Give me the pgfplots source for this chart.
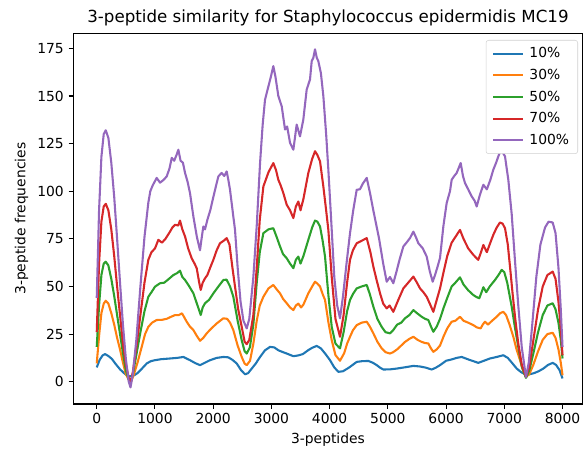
\documentclass[border=0pt]{standalone}
\usepackage{pgfplots}
\pgfplotsset{compat=1.18}
\usepackage{fontspec}
\setmainfont{DejaVu Sans}
\definecolor{c0}{HTML}{1F77B4}
\definecolor{c1}{HTML}{FF7F0E}
\definecolor{c2}{HTML}{2CA02C}
\definecolor{c3}{HTML}{D62728}
\definecolor{c4}{HTML}{9467BD}
\begin{document}
\begin{tikzpicture}
\begin{axis}[
  scale only axis, width=382pt, height=278pt,
  xmin=-402, xmax=8346, ymin=-11.7, ymax=182.9,
  xtick={0,1000,...,8000}, ytick={0,25,...,175},
  scaled x ticks=false,
  /pgf/number format/assume math mode=true,
  /pgf/number format/1000 sep={},
  tick align=outside, tick pos=left, major tick length=3.6pt,
  every tick/.style={black, line width=0.8pt},
  axis line style={line width=0.8pt},
  tick label style={font=\fontsize{10.4}{12}\selectfont},
  label style={font=\fontsize{10.4}{12}\selectfont},
  title style={font=\fontsize{12.5}{14}\selectfont, yshift=-4pt},
  title={3-peptide similarity for Staphylococcus epidermidis MC19},
  xlabel={3-peptides}, ylabel={3-peptide frequencies},
  legend cell align=left,
  legend style={at={(rel axis cs:1,1)}, anchor=north east, xshift=-3.5pt, yshift=-5pt,
    draw=black!18, rounded corners=2pt, font=\fontsize{10.4}{12}\selectfont,
    row sep=3pt, column sep=2pt, inner xsep=4.5pt, inner ysep=3.5pt},
  legend image code/.code={\draw[#1] (0pt,0pt) -- (22.5pt,0pt);},
  every axis plot/.append style={line width=1.56pt, line join=round},
]
\coordinate (ll) at (rel axis cs:0,0);
\addplot[c0] coordinates {(0,7.5) (50,11.5) (100,13.8) (143,14.5) (200,13.5) (260,12) (320,9.5) (400,6.5) (470,4.5) (515,3.4) (560,2.8) (600,3) (650,3.5) (700,4.5) (780,7) (859,9.6) (930,10.8) (1001,11.3) (1100,11.8) (1180,12) (1259,12.2) (1380,12.5) (1488,13) (1540,12.2) (1602,11.3) (1690,9.8) (1774,8.7) (1860,10) (1946,11.3) (2060,12.5) (2175,13) (2260,12.8) (2330,11.5) (2404,9.6) (2480,6) (2547,3.9) (2600,4.5) (2662,6.9) (2730,9.5) (2805,13) (2890,16.5) (2977,18.3) (3050,18) (3120,16.5) (3200,15.5) (3263,14.8) (3377,13.4) (3460,13.8) (3540,14.5) (3634,16.6) (3700,17.8) (3778,18.8) (3850,17.5) (3930,14.5) (4007,11.3) (4080,7.5) (4150,5.2) (4230,5.5) (4300,6.8) (4350,7.8) (4465,10.4) (4560,10.8) (4665,10.9) (4740,10) (4809,8.7) (4870,7.3) (4923,6.4) (5040,6.5) (5152,6.9) (5300,7.6) (5438,8.3) (5550,8) (5650,7.4) (5753,6.4) (5820,7.3) (5896,8.7) (6000,11) (6096,11.7) (6180,12.5) (6268,13) (6400,11.5) (6553,9.9) (6650,11) (6754,12.2) (6870,13) (6983,13.9) (7060,12.5) (7130,10) (7213,6.9) (7290,5) (7355,3.9) (7430,3.9) (7510,4.5) (7590,5.5) (7670,6.9) (7750,8.8) (7831,9.9) (7890,8.8) (7950,6) (8000,1.7)};
\addlegendentry{10\%}
\addplot[c1] coordinates {(0,9.6) (40,24) (80,36) (120,41) (155,42.5) (200,41) (250,36) (300,30) (350,23) (400,17) (450,10) (500,4) (550,1) (590,0) (640,4) (700,10) (770,18) (830,25) (886,28.8) (950,31) (1030,32.4) (1120,32.5) (1200,33) (1270,34) (1345,35) (1410,35) (1464,35.9) (1500,34) (1545,31.5) (1600,29) (1660,27.1) (1720,24) (1774,21.5) (1830,23) (1889,25.4) (1970,28) (2061,30.6) (2120,32) (2175,33.3) (2240,33) (2290,31) (2346,27.1) (2420,19) (2490,13) (2540,9.5) (2576,8.7) (2633,11) (2690,20) (2748,32) (2800,40) (2862,44.6) (2950,49) (3033,50.8) (3090,48.5) (3148,46.4) (3200,43.5) (3263,41.2) (3320,39) (3377,37.6) (3420,40) (3462,41) (3510,39) (3550,40.5) (3634,46.4) (3700,50) (3749,52.5) (3790,51.5) (3835,50) (3880,46) (3921,42.9) (3980,31) (4036,21.8) (4100,14) (4178,11) (4250,15) (4300,20) (4350,23.6) (4400,27) (4465,29.7) (4550,31) (4637,31.5) (4690,29) (4751,25.4) (4820,21) (4894,17.5) (4960,15.5) (5037,14.8) (5090,15.5) (5160,17) (5230,19) (5295,20.9) (5370,22.5) (5438,23.6) (5510,22) (5581,20.9) (5640,20.3) (5695,20.1) (5740,17.5) (5781,15.7) (5840,17) (5896,19) (5960,24) (6020,28) (6096,31.5) (6160,32) (6239,34.1) (6300,32) (6380,31) (6468,29.7) (6530,28.5) (6594,28) (6630,30) (6668,31.5) (6720,30) (6790,32) (6869,34.1) (6930,36) (6983,36.7) (7030,35) (7090,30) (7155,23.6) (7210,17) (7270,11.3) (7320,6) (7372,2.5) (7430,4) (7500,9) (7580,16) (7660,22) (7740,25) (7831,25.7) (7880,23) (7930,17) (7970,10) (8000,3.4)};
\addlegendentry{30\%}
\addplot[c2] coordinates {(0,18.3) (40,40) (80,56) (120,62) (155,63) (200,61) (250,54) (300,45) (350,35) (400,25) (450,15) (500,6) (550,1) (585,0) (620,4) (680,14) (750,26) (820,37) (886,44.6) (940,47) (1001,49.9) (1087,51.7) (1160,52) (1240,54) (1316,56) (1380,57) (1430,58.3) (1470,55) (1517,53.4) (1590,50) (1660,46.4) (1720,41) (1786,35) (1820,39) (1860,41.2) (1930,43) (2003,46.4) (2090,50) (2175,53.4) (2230,53.6) (2290,50) (2346,44.6) (2420,32) (2490,21.8) (2540,16) (2576,14.8) (2630,18) (2690,30) (2748,52) (2800,68) (2862,78) (2950,80) (3033,80.6) (3090,76) (3148,71) (3200,67) (3263,64.8) (3320,62) (3377,59.6) (3420,64) (3462,65.7) (3500,62) (3550,66) (3634,74.5) (3700,81) (3749,84.6) (3790,84) (3835,81.5) (3880,74) (3921,65.7) (3980,45) (4036,28.8) (4100,20) (4178,17.5) (4240,26) (4300,37) (4350,42.9) (4400,46) (4465,49) (4550,50) (4637,50.8) (4690,46) (4751,39.4) (4820,33) (4894,28.8) (4960,26) (5037,25.4) (5090,27) (5160,30) (5230,31) (5295,33.3) (5370,35) (5438,37.6) (5500,36) (5581,34.1) (5640,33) (5695,32.4) (5740,29) (5781,26.2) (5840,29) (5896,33) (5960,39) (6020,44) (6096,50) (6160,52) (6239,54.8) (6300,51) (6380,48) (6468,45.5) (6520,44.5) (6570,43.8) (6610,47) (6640,49.6) (6690,47) (6750,50) (6840,53.4) (6900,56) (6955,58.7) (7000,57.5) (7050,52) (7127,39.4) (7180,29) (7240,18.3) (7300,8) (7372,2) (7430,6) (7500,15) (7580,26) (7660,35) (7740,40) (7831,41.2) (7880,38) (7930,31) (7970,22) (8000,12.2)};
\addlegendentry{50\%}
\addplot[c3] coordinates {(0,26) (40,62) (80,84) (120,92) (155,93.4) (200,90) (250,80) (300,66) (350,50) (400,35) (450,20) (500,9) (550,2) (585,0) (620,5) (680,18) (750,35) (820,52) (886,64) (940,68) (1001,70) (1058,74.5) (1120,73) (1180,75) (1259,78.8) (1300,81) (1345,82.4) (1400,82) (1430,84.6) (1470,80) (1517,76.2) (1570,70) (1631,64.8) (1680,62) (1717,59.6) (1760,52) (1786,48.2) (1820,52) (1860,54.3) (1900,56) (1950,60) (2003,64) (2060,69) (2117,72.7) (2180,74) (2232,75.4) (2280,72) (2330,60) (2375,49.9) (2430,38) (2490,28.8) (2540,21) (2576,19.7) (2620,22) (2690,35) (2748,60) (2800,85) (2862,102.5) (2950,110) (3033,114.8) (3080,111) (3119,106) (3160,103) (3205,99) (3263,92.9) (3320,90) (3377,85.9) (3420,92) (3462,94.6) (3500,90) (3550,96) (3634,109.6) (3700,117) (3749,121) (3790,119) (3835,115.7) (3892,102.5) (3940,90) (3978,79.7) (4036,55) (4100,33) (4178,23.6) (4240,35) (4300,52) (4350,64) (4400,69) (4465,72.7) (4550,74) (4637,75.4) (4700,68) (4751,60.4) (4810,53) (4866,46.4) (4920,41) (4980,38.5) (5030,40) (5094,36.7) (5180,43) (5266,49) (5350,52) (5438,55.2) (5500,52) (5552,49) (5610,47) (5667,44.6) (5720,41) (5781,36.7) (5840,43) (5896,49) (5960,58) (6020,66) (6096,73) (6160,76) (6239,79.7) (6300,75) (6380,70) (6468,66.6) (6553,64) (6600,68) (6640,71.8) (6700,68) (6760,73) (6811,77.1) (6870,81) (6926,83.6) (6970,83) (7012,80.6) (7060,72) (7098,60.4) (7140,47) (7184,34.1) (7240,20) (7300,9) (7372,2.5) (7430,8) (7500,22) (7580,38) (7660,50) (7740,56) (7831,57.8) (7880,54) (7930,42) (7970,28) (8000,13.9)};
\addlegendentry{70\%}
\addplot[c4] coordinates {(0,44) (40,90) (80,118) (120,130) (155,132) (200,128) (250,115) (300,97) (350,75) (400,52) (450,30) (500,12) (550,0) (580,-3) (620,4) (680,22) (750,50) (820,76) (886,94) (920,100) (960,103) (1030,107) (1087,104.5) (1150,106) (1202,107.8) (1250,112) (1288,117.5) (1330,116) (1370,119) (1402,121.8) (1440,116) (1480,115) (1517,109.6) (1560,105) (1602,99) (1660,86.7) (1720,76) (1774,69) (1800,75) (1831,81.5) (1860,80) (1900,85) (1950,90) (2003,97) (2050,103) (2089,107.8) (2146,109.6) (2190,108) (2232,110.4) (2260,106) (2289,100.8) (2346,86.7) (2375,79.7) (2420,60) (2470,42) (2520,32) (2576,28) (2620,33) (2690,55) (2748,82) (2805,114.8) (2850,135) (2890,148) (2948,155) (2990,160) (3033,165.7) (3070,160) (3119,150) (3177,144.6) (3234,132.4) (3270,134) (3320,125.4) (3377,121.8) (3434,135) (3491,128.8) (3548,137.6) (3606,153.4) (3663,158.7) (3692,168.3) (3720,170) (3749,174.5) (3780,170) (3806,168.3) (3850,162) (3892,150) (3940,130) (3978,111.3) (4036,79.7) (4080,55) (4130,40) (4178,33.3) (4230,45) (4290,62) (4350,78) (4407,90.3) (4465,100.8) (4520,101) (4570,104) (4637,107) (4694,99) (4750,90) (4850,75) (4920,62) (4980,52.5) (5037,55) (5094,51.7) (5150,58) (5200,64) (5266,71) (5320,73) (5380,75.4) (5438,78.8) (5480,76) (5524,72.7) (5600,70) (5667,65.7) (5720,58) (5770,52.5) (5810,56) (5850,60) (5896,65) (5953,81.5) (6010,93.8) (6067,100) (6096,106) (6140,108) (6182,109.6) (6251,114.8) (6290,108) (6325,104.3) (6380,101) (6440,97.3) (6490,95) (6526,92) (6580,98) (6640,103.4) (6700,101) (6760,106) (6811,111.3) (6860,115) (6897,118.3) (6943,121.8) (6980,120) (7012,118.3) (7069,106) (7127,88) (7180,65) (7240,40) (7300,18) (7372,2.5) (7420,10) (7480,30) (7550,55) (7620,72) (7700,81) (7760,84) (7831,83.6) (7880,78) (7930,60) (7970,38) (8000,18.3)};
\addlegendentry{100\%}
\end{axis}
\pgfresetboundingbox
\path (ll) ++(-55pt,-35.25pt) rectangle ++(439.5pt,338.25pt);
\end{tikzpicture}
\end{document}
